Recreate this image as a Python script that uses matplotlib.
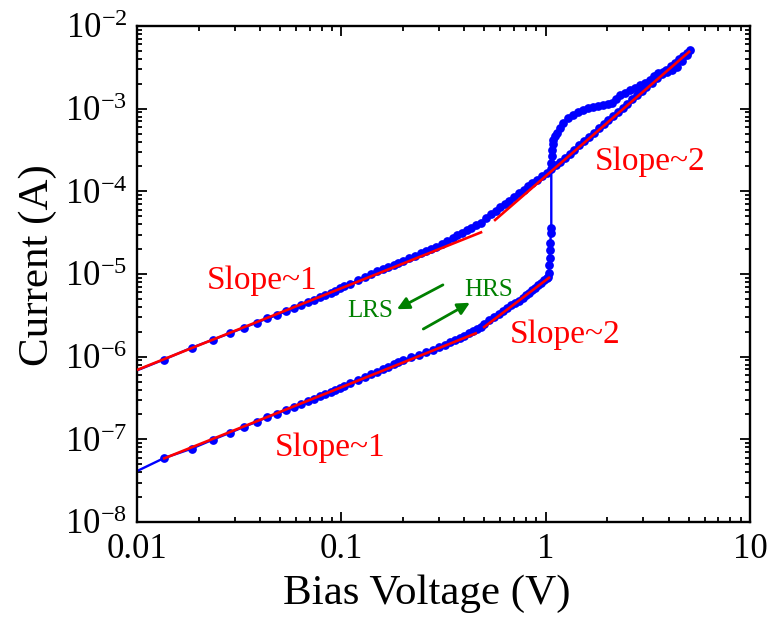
import matplotlib
matplotlib.use("Agg")
import matplotlib.pyplot as plt
from matplotlib.ticker import LogLocator, FixedLocator, FixedFormatter, NullFormatter

plt.rcParams['font.family'] = ['Liberation Serif', 'DejaVu Serif']
plt.rcParams['mathtext.fontset'] = 'custom'
plt.rcParams['mathtext.rm'] = 'Liberation Serif'
plt.rcParams['mathtext.it'] = 'Liberation Serif:italic'
plt.rcParams['mathtext.bf'] = 'Liberation Serif:bold'

# ---------------- data ----------------
# HRS forward sweep (lower curve), V in volts, I in amperes
hrs_v = [0.0085, 0.0135, 0.0185, 0.0235, 0.0285, 0.0335, 0.0385, 0.0435, 0.0485,
         0.0535, 0.0585, 0.0635, 0.0685, 0.0735, 0.0785, 0.0835, 0.0885, 0.0935,
         0.0985, 0.1035, 0.11, 0.12, 0.13, 0.14, 0.15, 0.16, 0.17, 0.18, 0.19, 0.20,
         0.22, 0.24, 0.26, 0.28, 0.30, 0.32, 0.34, 0.36, 0.38, 0.40, 0.42, 0.44,
         0.46, 0.48, 0.50, 0.53, 0.56, 0.59, 0.62, 0.65, 0.68, 0.71, 0.74, 0.77,
         0.80, 0.83, 0.86, 0.89, 0.92, 0.95, 0.98, 1.01, 1.03]
hrs_i = [3.4e-8, 5.9e-8, 7.7e-8, 9.9e-8, 1.2e-7, 1.42e-7, 1.63e-7, 1.86e-7, 2.05e-7,
         2.25e-7, 2.47e-7, 2.68e-7, 2.9e-7, 3.1e-7, 3.3e-7, 3.52e-7, 3.75e-7, 3.95e-7,
         4.18e-7, 4.45e-7, 4.78e-7, 5.2e-7, 5.62e-7, 6.11e-7, 6.59e-7, 7.09e-7, 7.59e-7,
         8.07e-7, 8.59e-7, 9.02e-7,
         9.79e-7, 1.055e-6, 1.13e-6, 1.21e-6, 1.31e-6, 1.40e-6, 1.49e-6, 1.59e-6,
         1.68e-6, 1.80e-6, 1.92e-6, 2.05e-6, 2.18e-6, 2.31e-6, 2.48e-6, 2.75e-6,
         3.02e-6, 3.31e-6, 3.59e-6, 3.87e-6, 4.16e-6, 4.46e-6, 4.76e-6, 5.13e-6,
         5.53e-6, 5.96e-6, 6.38e-6, 6.82e-6, 7.32e-6, 7.84e-6, 8.36e-6, 8.91e-6, 9.27e-6]

# SET transition (jump near 1 V)
set_v = [1.035, 1.04, 1.045, 1.05, 1.055, 1.06, 1.065, 1.065]
set_i = [1.03e-5, 1.29e-5, 1.57e-5, 1.95e-5, 2.38e-5, 3.14e-5, 3.61e-5, 2.2e-4]

# forward sweep after SET (arc above LRS line)
arc_v = [1.07, 1.075, 1.08, 1.09, 1.11, 1.137, 1.17, 1.216, 1.28, 1.36, 1.44, 1.52,
         1.61, 1.71, 1.81, 1.91, 2.01, 2.11, 2.21, 2.31, 2.45, 2.59, 2.74, 2.90,
         3.07, 3.24, 3.40, 3.55, 3.74, 3.93, 4.15, 4.40, 4.65, 4.92, 5.09]
arc_i = [2.7e-4, 3.17e-4, 3.7e-4, 4.19e-4, 4.7e-4, 5.08e-4, 5.8e-4, 6.71e-4, 7.6e-4,
         8.39e-4, 9.0e-4, 9.64e-4, 1.01e-3, 1.05e-3, 1.08e-3, 1.11e-3, 1.13e-3,
         1.17e-3, 1.3e-3, 1.46e-3, 1.56e-3, 1.68e-3, 1.80e-3, 1.94e-3, 2.07e-3,
         2.22e-3, 2.48e-3, 2.70e-3, 2.74e-3, 2.78e-3, 2.97e-3, 3.19e-3, 3.8e-3,
         4.46e-3, 5.12e-3]

# LRS return sweep (upper curve), from 5 V down
lrs_v = [4.9, 4.7, 4.5, 4.3, 4.1, 3.9, 3.7, 3.5, 3.3, 3.1, 2.95, 2.8, 2.65, 2.5,
         2.38, 2.26, 2.14, 2.02, 1.92, 1.82, 1.72, 1.63, 1.54, 1.46, 1.38, 1.31,
         1.24, 1.18, 1.12, 1.06, 1.01, 0.96, 0.91, 0.86, 0.82, 0.78, 0.74, 0.70,
         0.66, 0.63, 0.60, 0.57, 0.54, 0.51, 0.48, 0.455, 0.43, 0.41, 0.39, 0.37,
         0.35, 0.33, 0.31, 0.29, 0.275, 0.26, 0.245, 0.23, 0.215, 0.20, 0.19, 0.18,
         0.17, 0.16, 0.15, 0.14, 0.13, 0.12, 0.11, 0.1035, 0.0985, 0.0935, 0.0885,
         0.0835, 0.0785, 0.0735, 0.0685, 0.0635, 0.0585, 0.0535, 0.0485, 0.0435,
         0.0385, 0.0335, 0.0285, 0.0235, 0.0185, 0.0135, 0.0085]
lrs_i = [4.73e-3, 4.34e-3, 3.96e-3, 3.60e-3, 3.25e-3, 2.93e-3, 2.62e-3, 2.34e-3,
         2.06e-3, 1.81e-3, 1.63e-3, 1.45e-3, 1.29e-3, 1.14e-3, 1.03e-3, 9.16e-4,
         8.16e-4, 7.22e-4, 6.47e-4, 5.77e-4, 5.12e-4, 4.56e-4, 4.04e-4, 3.60e-4,
         3.19e-4, 2.85e-4, 2.53e-4, 2.28e-4, 2.06e-4, 1.85e-4, 1.68e-4, 1.52e-4,
         1.38e-4, 1.25e-4, 1.15e-4, 1.05e-4, 9.59e-5, 8.63e-5, 7.69e-5, 7.03e-5,
         6.40e-5, 5.80e-5, 5.24e-5, 4.70e-5, 4.19e-5, 3.89e-5, 3.60e-5, 3.37e-5,
         3.15e-5, 2.94e-5, 2.72e-5, 2.51e-5, 2.31e-5, 2.13e-5, 2.01e-5, 1.89e-5,
         1.77e-5, 1.66e-5, 1.55e-5, 1.44e-5, 1.37e-5, 1.30e-5, 1.23e-5, 1.16e-5,
         1.08e-5, 9.98e-6, 9.16e-6, 8.34e-6, 7.53e-6, 7.1e-6, 6.7e-6, 6.3e-6,
         5.95e-6, 5.6e-6, 5.2e-6, 4.85e-6, 4.55e-6, 4.2e-6, 3.92e-6, 3.55e-6,
         3.18e-6, 2.9e-6, 2.58e-6, 2.25e-6, 1.92e-6, 1.6e-6, 1.28e-6, 9.2e-7, 5.8e-7]

# Fitted power-law guide lines (end points)
fit_lrs1_v = [0.01, 0.489]
fit_lrs1_i = [6.9e-7, 3.23e-5]
fit_lrs2_v = [0.559, 5.09]
fit_lrs2_i = [4.39e-5, 4.99e-3]
fit_hrs1_v = [0.0134, 0.461]
fit_hrs1_i = [5.8e-8, 1.94e-6]
fit_hrs2_v = [0.494, 1.05]
fit_hrs2_i = [2.23e-6, 9.2e-6]

x_ticks = [0.01, 0.1, 1, 10]
x_tick_labels = ['0.01', '0.1', '1', '10']

# ---------------- figure ----------------
fig = plt.figure(figsize=(7.75, 6.33), dpi=100)
ax = fig.add_axes([0.1768, 0.1754, 0.7910, 0.7836])

sweep_v = hrs_v + set_v + arc_v + lrs_v
sweep_i = hrs_i + set_i + arc_i + lrs_i
ax.plot(sweep_v, sweep_i, '-', color='#0000ff', lw=1.7, zorder=2)
ax.plot(sweep_v, sweep_i, 'o', color='#0000ff', ms=6.3, mew=0, zorder=2)

for fv, fi in [(fit_lrs1_v, fit_lrs1_i), (fit_lrs2_v, fit_lrs2_i),
               (fit_hrs1_v, fit_hrs1_i), (fit_hrs2_v, fit_hrs2_i)]:
    ax.plot(fv, fi, '-', color='#ff0000', lw=1.9, zorder=3, solid_capstyle='butt')

ax.set_xscale('log')
ax.set_yscale('log')
ax.set_xlim(0.01, 10)
ax.set_ylim(1e-8, 1e-2)

ax.xaxis.set_major_locator(FixedLocator(x_ticks))
ax.xaxis.set_major_formatter(FixedFormatter(x_tick_labels))
ax.xaxis.set_minor_locator(LogLocator(base=10, subs=range(2, 10)))
ax.xaxis.set_minor_formatter(NullFormatter())
ax.yaxis.set_major_locator(LogLocator(base=10, numticks=10))
ax.yaxis.set_minor_locator(LogLocator(base=10, subs=range(2, 10), numticks=20))
ax.yaxis.set_minor_formatter(NullFormatter())

ax.tick_params(which='both', direction='in', top=True, right=True, width=1.3)
ax.tick_params(which='major', length=7, labelsize=25)
ax.tick_params(which='minor', length=3.8)
ax.tick_params(axis='x', pad=8)
ax.tick_params(axis='y', pad=7)
for s in ax.spines.values():
    s.set_linewidth(1.7)

ax.set_xlabel('Bias Voltage (V)', fontsize=31)
ax.set_ylabel('Current (A)', fontsize=31)
ax.xaxis.set_label_coords(0.473, -0.105)
ax.yaxis.set_label_coords(-0.13, 0.518)

red = '#ff0000'
green = '#008000'
ax.text(0.204, 0.470, 'Slope~1', color=red, fontsize=24, ha='center', va='baseline', transform=ax.transAxes)
ax.text(0.315, 0.133, 'Slope~1', color=red, fontsize=24, ha='center', va='baseline', transform=ax.transAxes)
ax.text(0.698, 0.361, 'Slope~2', color=red, fontsize=24, ha='center', va='baseline', transform=ax.transAxes)
ax.text(0.837, 0.710, 'Slope~2', color=red, fontsize=24, ha='center', va='baseline', transform=ax.transAxes)
ax.text(0.380, 0.413, 'LRS', color=green, fontsize=18, ha='center', va='baseline', transform=ax.transAxes)
ax.text(0.574, 0.456, 'HRS', color=green, fontsize=18, ha='center', va='baseline', transform=ax.transAxes)

ax.annotate('', xy=(0.424, 0.429), xytext=(0.499, 0.478), xycoords='axes fraction',
            arrowprops=dict(arrowstyle='-|>', color=green, lw=2, mutation_scale=18,
                            shrinkA=0, shrinkB=0))
ax.annotate('', xy=(0.543, 0.442), xytext=(0.467, 0.389), xycoords='axes fraction',
            arrowprops=dict(arrowstyle='-|>', color=green, lw=2, mutation_scale=18,
                            shrinkA=0, shrinkB=0))

fig.savefig('out.png', dpi=100)
